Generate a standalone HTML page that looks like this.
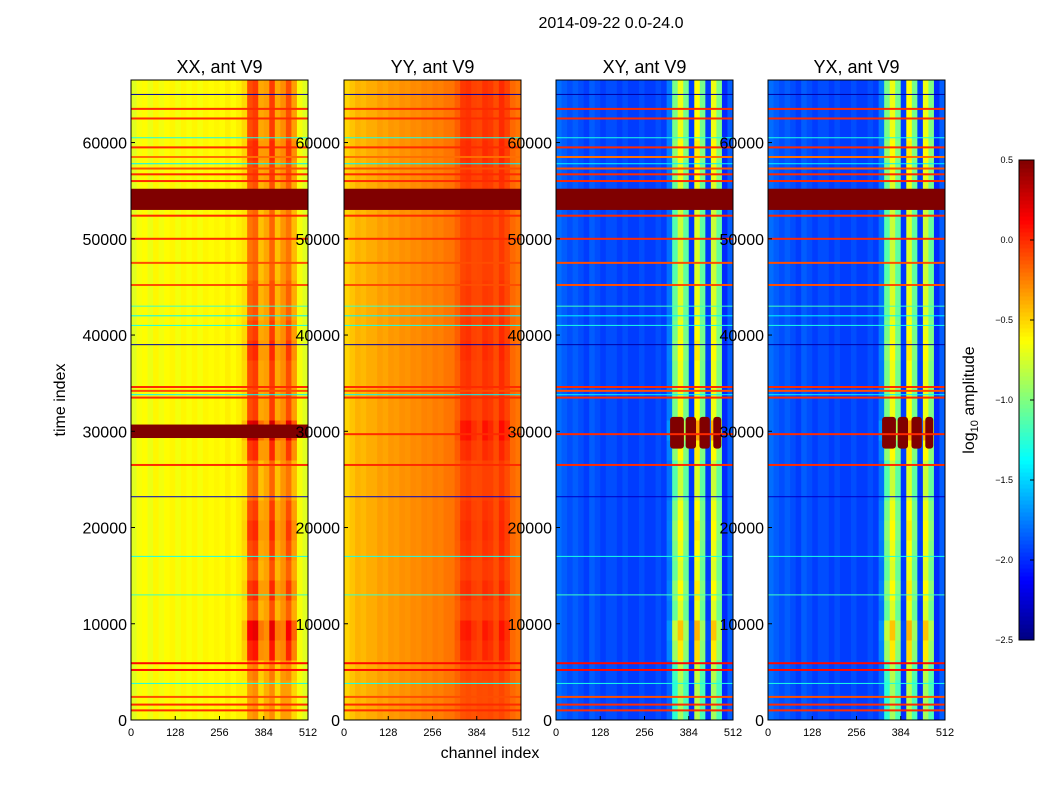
<!DOCTYPE html>
<html><head><meta charset="utf-8"><style>
body{margin:0;background:#fff;}
svg{display:block;font-family:"Liberation Sans",sans-serif;}
</style></head><body>
<svg id="fig" width="1050" height="800">
<text x="611" y="28" font-size="16" text-anchor="middle">2014-09-22 0.0-24.0</text>
<g id="panels"></g>
<text x="490" y="758" font-size="16" text-anchor="middle">channel index</text>
<text transform="translate(65,400) rotate(-90)" font-size="16" text-anchor="middle">time index</text>
<g id="cbar"></g>
<text transform="translate(974,400) rotate(-90)" font-size="16" text-anchor="middle">log<tspan font-size="11" dy="4">10</tspan><tspan dy="-4"> amplitude</tspan></text>
</svg>
<script>
// ---- data ----
const panelTitles = ["XX, ant V9","YY, ant V9","XY, ant V9","YX, ant V9"];
const xTicks = [0,128,256,384,512];
const yTicks = [0,10000,20000,30000,40000,50000,60000];
const cbTicks = [-2.5,-2.0,-1.5,-1.0,-0.5,0.0,0.5];
// channel profiles, 32 bins of 16 channels
const chanXX = [-0.72,-0.65,-0.62,-0.68,-0.6,-0.66,-0.62,-0.6,-0.66,-0.6,-0.64,-0.6,-0.65,-0.6,-0.62,-0.6,-0.62,-0.58,-0.62,-0.58,-0.6,-0.4,-0.35,-0.55,-0.4,-0.35,-0.55,-0.35,-0.4,-0.55,-0.65,-0.72];
const chanYY = [-0.5,-0.45,-0.4,-0.42,-0.38,-0.38,-0.34,-0.36,-0.32,-0.33,-0.3,-0.31,-0.28,-0.29,-0.26,-0.27,-0.24,-0.25,-0.22,-0.22,-0.18,-0.14,-0.12,-0.13,-0.1,-0.12,-0.1,-0.12,-0.1,-0.14,-0.18,-0.22];
const chanXY = [-1.8,-1.85,-1.9,-1.85,-1.9,-1.95,-1.85,-1.9,-1.95,-1.9,-1.9,-1.95,-1.9,-1.95,-1.95,-1.9,-1.95,-1.95,-1.9,-1.95,-1.85,-1.3,-0.95,-1.2,-2.0,-0.9,-1.2,-2.0,-0.95,-1.2,-2.0,-1.85];
const chanYX = [-1.8,-1.85,-1.9,-1.85,-1.9,-1.95,-1.85,-1.9,-1.95,-1.9,-1.9,-1.95,-1.9,-1.95,-1.95,-1.9,-1.95,-1.95,-1.9,-1.95,-1.85,-1.3,-0.95,-1.2,-2.0,-0.9,-1.2,-2.0,-0.95,-1.2,-2.0,-1.85];
const activeMask = [0,0,0,0,0,0,0,0,0,0,0,0,0,0,0,0,0,0,0,0,0.3,1,1,0.6,0.2,1,0.6,0.2,1,0.7,0,0];
// time boost for active channels, 32 bins of ~2078 time indices
const timeBoost = [0.1,0.1,0.2,0.7,0.9,0.4,0.6,0.4,0.5,0.6,0.5,0.3,0.3,0.6,1.0,0.5,0.5,0.5,0.6,0.5,0.4,0.4,0.3,0.3,0.3,0.3,0.4,0.5,0.6,0.5,0.5,0.5];
const boostScale = [0.6,0.2,0.55,0.55];
// horizontal RFI lines: time index, value
const lineTimes = [1000,1600,2400,5200,5900,26500,29700,33500,34200,34600,45200,47500,50000,52400,56000,56700,57300,58500,59500,62500,63500];
const lineVals = [0.0,0.0,-0.1,0.1,0.1,0.0,0.0,0.0,-0.1,0.0,-0.1,-0.1,0.0,0.0,0.0,0.0,-0.1,-0.2,0.0,0.0,0.0];
const thinTimes = [3800,13000,17000,23200,33800,39000,41000,42000,43000,57800,60500,65000];
const thinVals = [-1.3,-1.2,-1.3,-2.3,-1.4,-2.4,-1.3,-1.4,-1.2,-1.4,-1.3,-2.4];
const bandStart = [53000,29300];
const bandEnd = [55200,30700];
const bandPanels = [[0,1,2,3],[0]];
// ---- helpers ----
const NS="http://www.w3.org/2000/svg";
const panelX=[131,344,556,768], PW=177, PT=80, PB=720, YMAX=66500;
const xs=(c,i)=>panelX[i]+c/512*PW;
const ys=t=>PB-t/YMAX*(PB-PT);
function jet(v){let t=(v+2.5)/3;t=Math.max(0,Math.min(1,t));
 const r=Math.max(0,Math.min(1,Math.min(4*t-1.5,-4*t+4.5)));
 const g=Math.max(0,Math.min(1,Math.min(4*t-0.5,-4*t+3.5)));
 const b=Math.max(0,Math.min(1,Math.min(4*t+0.5,-4*t+2.5)));
 return `rgb(${Math.round(r*255)},${Math.round(g*255)},${Math.round(b*255)})`;}
function mk(tag,attrs,parent){const e=document.createElementNS(NS,tag);for(const k in attrs)e.setAttribute(k,attrs[k]);parent.appendChild(e);return e;}
const chans=[chanXX,chanYY,chanXY,chanYX];
const panels=document.getElementById('panels');
const tb=YMAX/timeBoost.length;
panelTitles.forEach((title,i)=>{
 const g=mk('g',{},panels);
 
 
 const ch=chans[i];
 for(let r=0;r<timeBoost.length;r++){
  for(let c=0;c<ch.length;c++){
   const v=ch[c]+timeBoost[r]*activeMask[c]*boostScale[i];
   const x0=xs(c*16,i),x1=xs((c+1)*16,i),y0=ys((r+1)*tb),y1=ys(r*tb);
   const e=mk('rect',{x:x0,y:y0,width:x1-x0+0.5,height:y1-y0+0.5,fill:jet(v)},g);
   
   
  }
 }
 if(i>=2){[[330,370],[375,405],[415,445],[455,478]].forEach(([a,b])=>{
   const e=mk('rect',{x:xs(a,i),y:ys(31500),width:xs(b,i)-xs(a,i),height:ys(28200)-ys(31500),fill:jet(0.5),rx:3},g);
   
   });}
 thinTimes.forEach((t,k)=>{
   const e=mk('rect',{x:panelX[i],y:ys(t)-0.5,width:PW,height:1,fill:jet(thinVals[k])},g);
   
   });
 lineTimes.forEach((t,k)=>{
   const e=mk('rect',{x:panelX[i],y:ys(t)-1,width:PW,height:2,fill:jet(lineVals[k])},g);
   
   });
 bandStart.forEach((s,k)=>{ if(bandPanels[k].includes(i)){
   const e=mk('rect',{x:panelX[i],y:ys(bandEnd[k]),width:PW,height:ys(s)-ys(bandEnd[k]),fill:jet(0.5)},g);
   
   }});
 const fr=mk('rect',{x:panelX[i],y:PT,width:PW,height:PB-PT,fill:'none',stroke:'#000','stroke-width':1},g);
 
 
 const tt=mk('text',{x:panelX[i]+PW/2,y:73,'font-size':18,'text-anchor':'middle'},g);tt.textContent=title;
 
 
 xTicks.forEach(v=>{const x=xs(v,i);
  mk('line',{x1:x,x2:x,y1:PB,y2:PB-4,stroke:'#000'},g);
  const t=mk('text',{x:x,y:736,'font-size':11,'text-anchor':'middle'},g);t.textContent=v;
  
  });
 yTicks.forEach(v=>{const y=ys(v);
  mk('line',{x1:panelX[i],x2:panelX[i]+4,y1:y,y2:y,stroke:'#000'},g);
  const t=mk('text',{x:panelX[i]-4,y:y+6,'font-size':16,'text-anchor':'end'},g);t.textContent=v;
  
  });
});
// colorbar
const cb=document.getElementById('cbar');
const CBX=1019,CBW=15,CBT=160,CBB=640;
const cbs=v=>CBB-(v+2.5)/3*(CBB-CBT);
for(let k=0;k<120;k++){const v0=-2.5+k*3/120,v1=v0+3/120;
 const e=mk('rect',{x:CBX,y:cbs(v1),width:CBW,height:cbs(v0)-cbs(v1)+0.5,fill:jet((v0+v1)/2)},cb);
 
 }
const cf=mk('rect',{x:CBX,y:CBT,width:CBW,height:CBB-CBT,fill:'none',stroke:'#000'},cb);


cbTicks.forEach(v=>{const y=cbs(v);
 mk('line',{x1:CBX+CBW-4,x2:CBX+CBW,y1:y,y2:y,stroke:'#000'},cb);
 const t=mk('text',{x:1013,y:y+3,'font-size':9,'text-anchor':'end'},cb);t.textContent=v.toFixed(1).replace('-','\u2212');
 
 });
</script>
</body></html>
